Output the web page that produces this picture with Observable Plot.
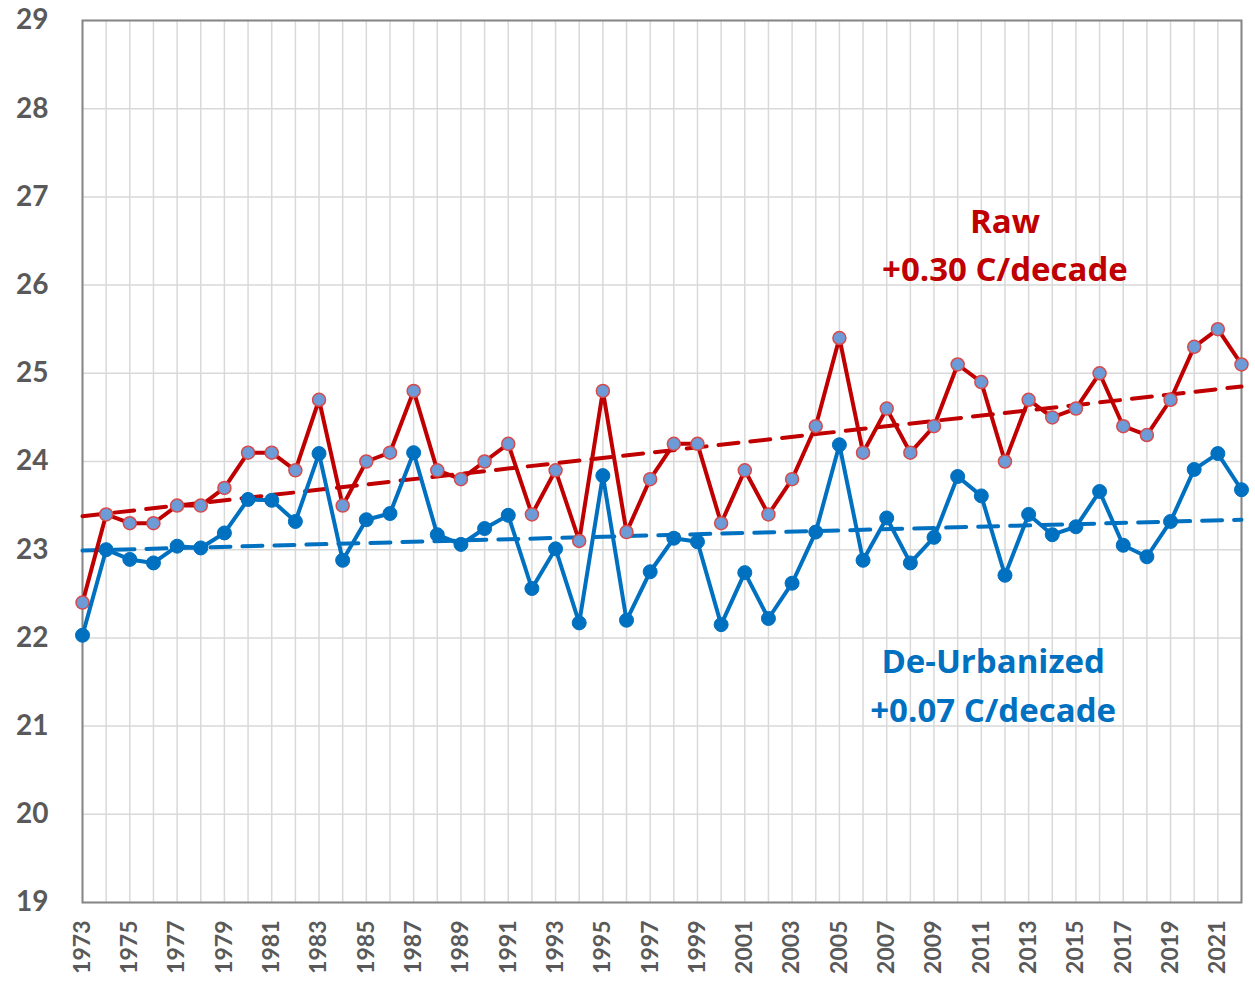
<!DOCTYPE html>
<html>
<head>
<meta charset="utf-8">
<script src="https://cdn.jsdelivr.net/npm/d3@7"></script>
<script src="https://cdn.jsdelivr.net/npm/@observablehq/plot@0.6"></script>
<style>
  html, body { margin: 0; padding: 0; background: #fff; }
  #chart svg { display: block; }
</style>
</head>
<body>
<div id="chart"></div>
<script>
const years = d3.range(1973, 2023);
const rawValues = [
  22.4, 23.4, 23.3, 23.3, 23.5, 23.5, 23.7, 24.1, 24.1, 23.9,
  24.7, 23.5, 24.0, 24.1, 24.8, 23.9, 23.8, 24.0, 24.2, 23.4,
  23.9, 23.1, 24.8, 23.2, 23.8, 24.2, 24.2, 23.3, 23.9, 23.4,
  23.8, 24.4, 25.4, 24.1, 24.6, 24.1, 24.4, 25.1, 24.9, 24.0,
  24.7, 24.5, 24.6, 25.0, 24.4, 24.3, 24.7, 25.3, 25.5, 25.1
];
const deurbValues = [
  22.03, 23.00, 22.89, 22.85, 23.04, 23.02, 23.19, 23.57, 23.56, 23.32,
  24.09, 22.88, 23.34, 23.41, 24.10, 23.17, 23.06, 23.24, 23.39, 22.56,
  23.01, 22.17, 23.84, 22.20, 22.75, 23.13, 23.09, 22.15, 22.74, 22.22,
  22.62, 23.20, 24.19, 22.88, 23.36, 22.85, 23.14, 23.83, 23.61, 22.71,
  23.40, 23.17, 23.26, 23.66, 23.05, 22.92, 23.32, 23.91, 24.09, 23.68
];
const trendYears = [1973, 2022];
const rawTrend = [23.38, 24.85];
const deurbTrend = [22.99, 23.34];
const yTicks = [19, 20, 21, 22, 23, 24, 25, 26, 27, 28, 29];
const xLabelYears = d3.range(1973, 2022, 2);
const rawLabel = ["Raw", "+0.30 C/decade"];
const deurbLabel = ["De-Urbanized", "+0.07 C/decade"];

const raw = years.map((y, i) => ({year: y, value: rawValues[i]}));
const deurb = years.map((y, i) => ({year: y, value: deurbValues[i]}));
const rawT = trendYears.map((y, i) => ({year: y, value: rawTrend[i]}));
const deurbT = trendYears.map((y, i) => ({year: y, value: deurbTrend[i]}));

const RED = "#C00000";
const BLUE = "#0070C0";
const FONT = "Lato, 'Open Sans', sans-serif";
const LABEL_FONT = "'Open Sans', Lato, sans-serif";

const chart = Plot.plot({
  width: 1255,
  height: 982,
  marginLeft: 82,
  marginRight: 14,
  marginTop: 20,
  marginBottom: 80,
  style: {fontFamily: FONT, background: "#fff"},
  x: {domain: [1973, 2022], ticks: years, tickFormat: () => "", tickSize: 0},
  y: {domain: [19, 29], ticks: yTicks, tickSize: 0},
  marks: [
    Plot.gridX(years, {stroke: "#d9d9d9", strokeOpacity: 1, strokeWidth: 1.5}),
    Plot.gridY(yTicks, {stroke: "#d9d9d9", strokeOpacity: 1, strokeWidth: 1.5}),
    Plot.frame({stroke: "#868686", strokeWidth: 2}),
    Plot.axisY({ticks: yTicks, tickSize: 0, tickPadding: 34, fontSize: 28, fontWeight: "bold", fill: "#595959", label: null}),
    Plot.axisX({ticks: xLabelYears, tickSize: 0, tickPadding: 18, tickRotate: -90, fontSize: 23, fontWeight: "bold", fill: "#595959", label: null, tickFormat: d => String(d)}),
    Plot.line(rawT, {x: "year", y: "value", stroke: RED, strokeWidth: 4, strokeDasharray: "20,12"}),
    Plot.line(deurbT, {x: "year", y: "value", stroke: BLUE, strokeWidth: 4, strokeDasharray: "20,12"}),
    Plot.line(raw, {x: "year", y: "value", stroke: RED, strokeWidth: 4}),
    Plot.dot(raw, {x: "year", y: "value", r: 6.5, fill: "#6C9BD8", stroke: "#D8494A", strokeWidth: 1.5}),
    Plot.line(deurb, {x: "year", y: "value", stroke: BLUE, strokeWidth: 4}),
    Plot.dot(deurb, {x: "year", y: "value", r: 7, fill: BLUE, stroke: BLUE, strokeWidth: 1}),
    Plot.text([rawLabel[0]], {x: 2012, y: 26.71, text: d => d, fill: RED, fontSize: 33, fontWeight: "bold", fontFamily: LABEL_FONT}),
    Plot.text([rawLabel[1]], {x: 2012, y: 26.17, text: d => d, fill: RED, fontSize: 33, fontWeight: "bold", fontFamily: LABEL_FONT}),
    Plot.text([deurbLabel[0]], {x: 2011.5, y: 21.72, text: d => d, fill: BLUE, fontSize: 33, fontWeight: "bold", fontFamily: LABEL_FONT}),
    Plot.text([deurbLabel[1]], {x: 2011.5, y: 21.17, text: d => d, fill: BLUE, fontSize: 33, fontWeight: "bold", fontFamily: LABEL_FONT})
  ]
});
document.getElementById("chart").appendChild(chart);
</script>
</body>
</html>
